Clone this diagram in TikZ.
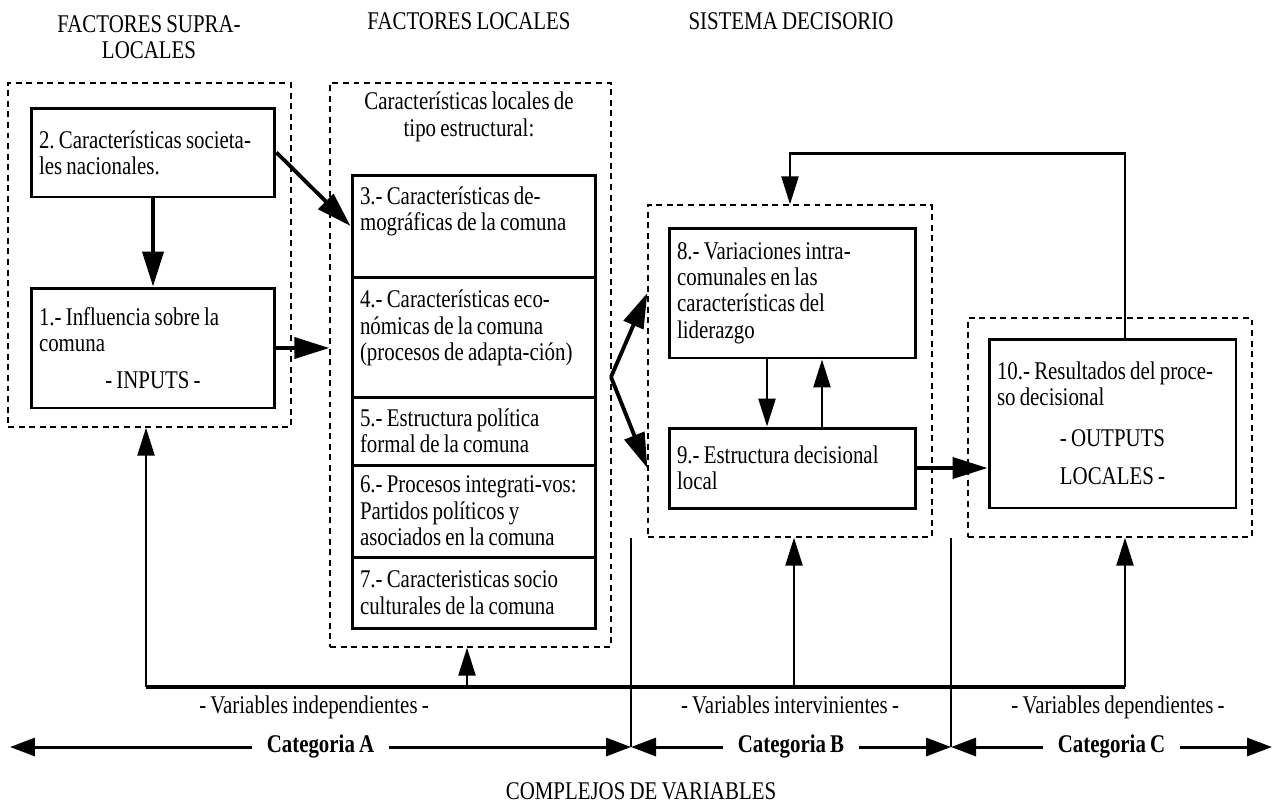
\documentclass[tikz,border=0pt]{standalone}
\usepackage{fontspec}
\setmainfont{Liberation Serif}[FakeStretch=0.82, WordSpace=0.8]
\usetikzlibrary{arrows.meta}
\frenchspacing

\begin{document}
\begin{tikzpicture}[x=0.02cm, y=-0.02cm,
	every node/.style = {font=\fontsize{14.5}{15}\selectfont},
	main/.style = {draw, line width=1.7pt, inner xsep=0.16cm, inner ysep=0pt, text width=4.56cm, align=flush left},
	wide/.style = {main, text width=4.62cm},
	group/.style = {draw, line width=0.8pt, dash pattern=on 3.4pt off 2.6pt, inner sep=0pt},
	big/.style = {line width=2.2pt, -{Triangle[length=0.7cm, width=0.42cm]}},
	arr/.style = {line width=1.4pt, -{Triangle[length=0.56cm, width=0.34cm]}},
	cat/.style = {line width=1.7pt, {Triangle[length=0.5cm, width=0.36cm]}-{Triangle[length=0.5cm, width=0.36cm]}},
	catname/.style = {fill=white, inner xsep=0.3cm, anchor=base, font=\fontsize{14.5}{15}\selectfont\bfseries},
	lbl/.style = {anchor=base}]
			\useasboundingbox (0,0) rectangle (1277,806);
			% grupos
			\node[group, minimum width=5.66cm, minimum height=6.88cm] (g1) at (149.5,255) {};
			\node[group, minimum width=5.62cm, minimum height=11.28cm] (g2) at (470.5,365) {};
			\node[group, minimum width=5.68cm, minimum height=6.64cm] (g3) at (790,371) {};
			\node[group, minimum width=5.68cm, minimum height=4.38cm] (g4) at (1110,427.5) {};
			% titulos
			\node[align=center] (t1) at (149,37) {FACTORES SUPRA-\\LOCALES};
			\node[lbl] (t2) at (469,29) {FACTORES LOCALES};
			\node[lbl] (t3) at (791,29) {SISTEMA DECISORIO};
			\node[align=center] (t4) at (469,117) {Características locales de\\tipo estructural:};
			% cajas
			\node[main, minimum height=1.78cm] (2) at (153,152.5) {2. Características societa-\\les nacionales.};
			\node[main, minimum height=2.4cm] (1) at (153,348) {1.- Influencia sobre la\\comuna\\[6pt]\makebox[\hsize]{- INPUTS -}};
			\node[main, minimum height=2.04cm] (3) at (474,226) {3.- Características de-\\mográficas de la comuna\\ \strut};
			\node[main, minimum height=2.4cm] (4) at (474,337) {4.- Características eco-\\nómicas de la comuna\\(procesos de adapta-ción)\\[-6pt]\strut};
			\node[main, minimum height=1.36cm] (5) at (474,431) {5.- Estructura política\\formal de la comuna};
			\node[main, minimum height=1.84cm] (6) at (474,511) {6.- Procesos integrati-vos:\\Partidos políticos y\\asociados en la comuna};
			\node[main, minimum height=1.42cm] (7) at (474,592.5) {7.- Caracteristicas socio\\culturales de la comuna};
			\node[wide, minimum height=2.6cm] (8) at (792.5,293) {8.- Variaciones intra-\\comunales en las\\características del\\liderazgo};
			\node[wide, minimum height=1.6cm] (9) at (792.5,468) {9.- Estructura decisional\\local};
			\node[wide, minimum height=3.38cm] (10) at (1112.5,423.5) {10.- Resultados del proce-\\so decisional\\[8pt]\makebox[\hsize]{- OUTPUTS}\\[7pt]\makebox[\hsize]{LOCALES -}};
			% flechas
			\coordinate (fk) at (611,377);
			\draw[big] (2) -- (1);
			\draw[big] (2.east) -- (3.west);
			\draw[big] (1.east) -- (1.east -| g2.west);
			\draw[big] (fk) -- (8 -| g3.west);
			\draw[big] (fk) -- (9 -| g3.west);
			\draw[arr] ([xshift=-0.51cm]8.south) -- ([xshift=-0.51cm]9.north);
			\draw[arr] ([xshift=0.59cm]9.north) -- ([xshift=0.59cm]8.south);
			\draw[big] (9.east) -- (9.east -| 10.west);
			\draw[arr] ([xshift=0.25cm]10.north) -- ++(0,-184) -| (g3.north);
			% variables
			\coordinate (v1) at (146,687);
			\coordinate (v2) at (467,687);
			\coordinate (v3) at (794,687);
			\coordinate (v4) at (1125,687);
			\draw[line width=1.9pt] (v1) -- (v4);
			\draw[arr] (v1) -- (v1 |- g1.south);
			\draw[arr] (v2) -- (v2 |- g2.south);
			\draw[arr] (v3) -- (v3 |- g3.south);
			\draw[arr] (v4) -- (v4 |- g4.south);
			\node[lbl] (va) at (314,713) {- Variables independientes -};
			\node[lbl] (vb) at (790,713) {- Variables intervinientes -};
			\node[lbl] (vc) at (1118,713) {- Variables dependientes -};
			% categorias
			\coordinate (c0) at (10,747);
			\coordinate (c1) at (631,747);
			\coordinate (c2) at (951,747);
			\coordinate (c3) at (1272,747);
			\draw[line width=1.1pt] (c1) -- (c1 |- g3.south);
			\draw[line width=1.1pt] (c2) -- (c2 |- g3.south);
			\draw[cat] (c0) -- node[catname, yshift=-0.1cm] (ca) {Categoria A} (c1);
			\draw[cat] (c1) -- node[catname, yshift=-0.1cm] (cb) {Categoria B} (c2);
			\draw[cat] (c2) -- node[catname, yshift=-0.1cm] (cc) {Categoria C} (c3);
			\node[lbl] (cv) at (641,799) {COMPLEJOS DE VARIABLES};
		\end{tikzpicture}
\end{document}
